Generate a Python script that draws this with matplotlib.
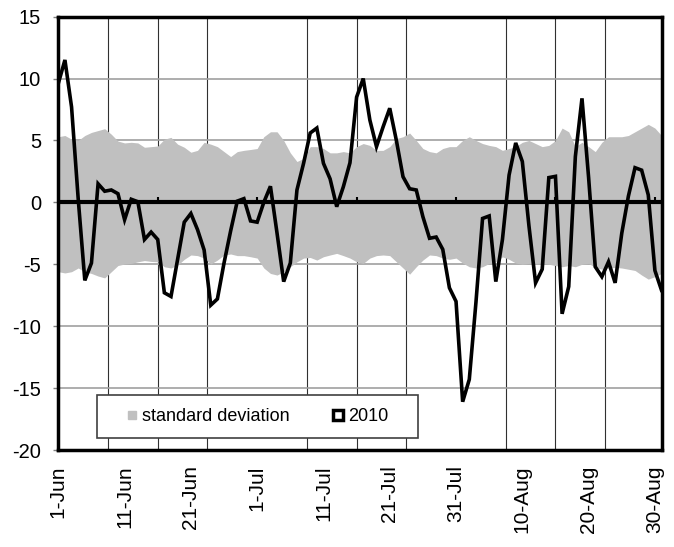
import numpy as np
import matplotlib
matplotlib.use("Agg")
import matplotlib.pyplot as plt
from matplotlib.lines import Line2D
from matplotlib.patches import Rectangle

plt.rcParams['font.family'] = ['Liberation Sans', 'DejaVu Sans']
plt.rcParams['axes.unicode_minus'] = False

# daily values, 1-Jun .. 31-Aug
anom_2010 = [9.6, 11.5, 7.7, 0.3, -6.3, -4.9, 1.5, 0.9, 1.0, 0.7,
             -1.4, 0.25, 0.05, -3.0, -2.4, -3.0, -7.3, -7.6, -4.6, -1.6,
             -0.9, -2.2, -3.85, -8.3, -7.8, -4.9, -2.3, 0.1, 0.3, -1.5,
             -1.6, 0.0, 1.3, -2.5, -6.4, -4.9, 1.0, 3.15, 5.6, 6.0,
             3.15, 1.9, -0.35, 1.26, 3.2, 8.5, 10.0, 6.65, 4.5, 6.1,
             7.6, 5.0, 2.07, 1.1, 1.0, -1.16, -2.9, -2.8, -3.8, -6.9,
             -8.0, -16.1, -14.3, -8.1, -1.3, -1.1, -6.4, -3.0, 2.2, 4.8,
             3.3, -1.9, -6.5, -5.4, 2.0, 2.1, -9.0, -6.8, 3.7, 8.4,
             2.0, -5.2, -6.0, -4.8, -6.5, -2.5, 0.5, 2.8, 2.6, 0.6,
             -5.5, -7.1]

sd_upper = [5.3, 5.4, 5.1, 5.0, 5.4, 5.65, 5.8, 5.95, 5.5, 4.95,
            4.8, 4.85, 4.8, 4.45, 4.5, 4.55, 5.1, 5.25, 4.7, 4.45,
            4.05, 4.2, 4.85, 4.7, 4.5, 4.1, 3.7, 4.1, 4.2, 4.27,
            4.35, 5.3, 5.7, 5.7, 5.0, 4.0, 3.3, 3.55, 4.5, 4.5,
            4.35, 4.0, 4.0, 4.1, 4.0, 4.5, 4.75, 4.6, 4.2, 4.2,
            4.5, 5.15, 5.3, 5.6, 5.0, 4.35, 4.1, 4.0, 4.35, 4.5,
            4.5, 5.0, 5.3, 5.0, 4.75, 4.6, 4.5, 4.2, 4.35, 4.5,
            4.85, 5.0, 4.75, 4.5, 4.6, 5.0, 6.0, 5.7, 4.5, 4.85,
            4.5, 4.1, 4.85, 5.3, 5.3, 5.3, 5.4, 5.7, 6.0, 6.3,
            6.0, 5.4]

sd_lower = [-5.6, -5.7, -5.6, -5.3, -5.6, -5.74, -5.95, -6.1, -5.6, -5.1,
            -4.98, -4.93, -4.8, -4.7, -4.77, -4.8, -5.2, -5.3, -5.07, -4.6,
            -4.25, -4.3, -4.5, -4.98, -4.66, -4.25, -4.17, -4.3, -4.3, -4.39,
            -4.5, -5.3, -5.74, -5.87, -5.6, -5.2, -4.8, -4.5, -4.45, -4.66,
            -4.39, -4.25, -4.12, -4.3, -4.5, -4.8, -4.93, -4.5, -4.3, -4.25,
            -4.3, -4.8, -5.3, -5.8, -5.2, -4.66, -4.25, -4.3, -4.5, -4.6,
            -4.5, -4.9, -5.2, -5.3, -5.2, -4.93, -4.8, -4.4, -4.6, -4.9,
            -5.0, -4.93, -4.93, -4.9, -5.0, -5.1, -5.2, -5.1, -5.2, -5.0,
            -4.93, -5.25, -5.4, -5.3, -5.25, -5.3, -5.4, -5.5, -5.87, -6.2,
            -6.0, -5.74]

date_labels = ["1-Jun", "11-Jun", "21-Jun", "1-Jul", "11-Jul", "21-Jul",
               "31-Jul", "10-Aug", "20-Aug", "30-Aug"]

days = np.arange(len(anom_2010))

fig = plt.figure(figsize=(6.74, 5.47), dpi=100)
ax = fig.add_axes([0.0865, 0.1773, 0.895, 0.7923])

ax.fill_between(days, sd_lower, sd_upper, color='#c0c0c0', lw=0, zorder=2)
ax.axhline(0, color='black', lw=3, zorder=3)
# small tick marks sitting on the zero line
ax.vlines(np.arange(0, 91, 15), 0, 0.45, color='black', lw=1.5, zorder=3)
ax.plot(days, anom_2010, color='black', lw=2.6, zorder=4,
        solid_joinstyle='miter')

ax.set_xlim(0, 91)
ax.set_ylim(-20, 15)
ax.set_yticks(np.arange(-20, 16, 5))
ax.set_xticks(np.arange(0, 91, 10))
ax.set_xticklabels(date_labels, rotation=90, fontsize=15)
ax.set_xticks(np.arange(0, 91, 7.5), minor=True)
ax.tick_params(axis='x', which='both', length=0, pad=11)
ax.tick_params(axis='y', length=3.5, width=1, color='#808080', pad=9,
               labelsize=14.5)

ax.grid(axis='y', color='#a0a0a0', lw=1.2, zorder=0)
ax.grid(axis='x', which='minor', color='#303030', lw=0.8, zorder=0)
ax.grid(axis='x', which='major', visible=False)
ax.set_axisbelow(True)

for sp in ax.spines.values():
    sp.set_linewidth(2.5)
    sp.set_color('black')

# legend box
ax.add_patch(Rectangle((0.0637, 0.0284), 0.533, 0.0985, transform=ax.transAxes,
                       facecolor='white', edgecolor='#404040', lw=1.2,
                       zorder=5))
handles = [Line2D([], [], ls='none', marker='s', ms=6, color='#c0c0c0'),
           Line2D([], [], ls='none', marker='s', ms=7, mfc='white',
                  mec='black', mew=2.5)]
ax.legend(handles, ['standard deviation', '2010'], ncol=2, frameon=False,
          loc='center', bbox_to_anchor=(0.0637 + 0.533 / 2, 0.0284 + 0.0985 / 2),
          fontsize=13, handlelength=0.6, handletextpad=0.25,
          columnspacing=2.4).set_zorder(6)

fig.savefig('out.png', dpi=100)
